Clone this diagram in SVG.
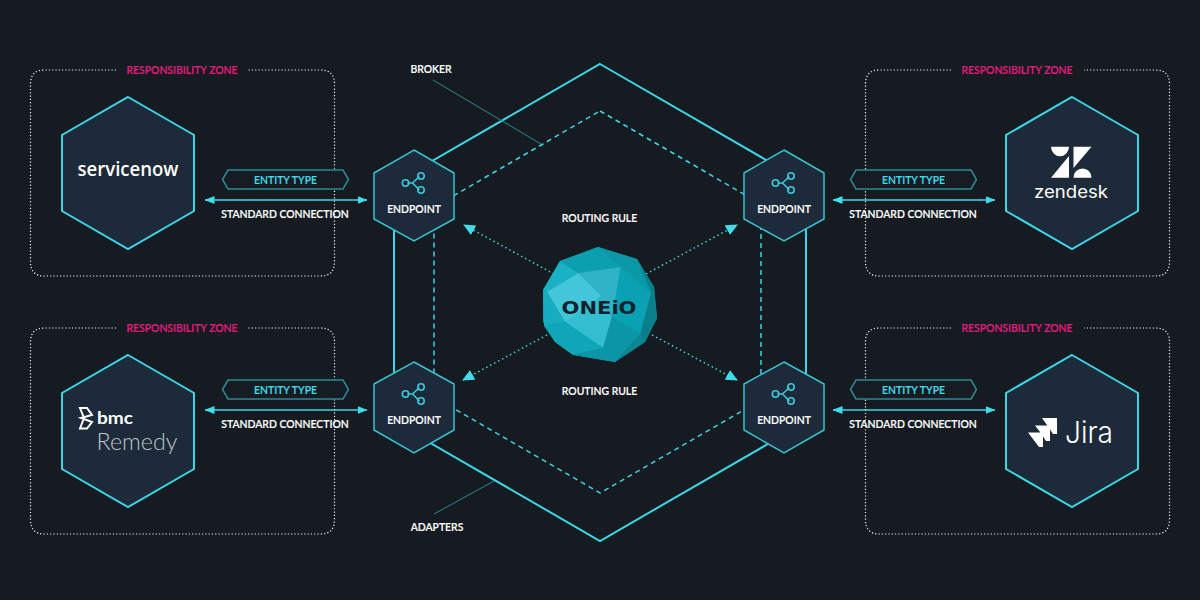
<svg xmlns="http://www.w3.org/2000/svg" width="1200" height="600" viewBox="0 0 1200 600">
<defs>
<style>
text{font-family:Lato,"Open Sans","Liberation Sans",sans-serif;text-anchor:middle}
.lbl{font-size:10.4px;font-weight:600;fill:#fff;stroke:#fff;stroke-width:.15}
.zone-t{font-size:10.4px;font-weight:600;fill:#e01c80;stroke:#e01c80;stroke-width:.15}
.et{font-size:10.4px;font-weight:600;fill:#3fdcea;stroke:#3fdcea;stroke-width:.15}
.zone{fill:none;stroke:#f2f4f5;stroke-width:1.2;stroke-dasharray:1.2 2.1}
.svc{fill:#1d2a3a;stroke:#3bd6e6;stroke-width:2}
.ep{fill:#1d2a3a;stroke:#37c3d2;stroke-width:1.5}
.etb{fill:#171b22;stroke:#2a8b99;stroke-width:1.5}
.solid{fill:none;stroke:#3bd6e6;stroke-width:2}
.dash{fill:none;stroke:#3bd6e6;stroke-width:1.5;stroke-dasharray:5 4}
.dot{fill:none;stroke:#3bd6e6;stroke-width:1.5;stroke-dasharray:1.5 3}
.lead{fill:none;stroke:#2a8b99;stroke-width:1}
.conn{stroke:#3bd6e6;stroke-width:1.5}
.ic{fill:none;stroke:#3bc9da;stroke-width:1.6}
</style>
<marker id="ah" viewBox="0 0 10 8" refX="9.500" refY="4" markerUnits="userSpaceOnUse" markerWidth="10" markerHeight="8" orient="auto-start-reverse"><path d="M0 0L10 4L0 8Z" fill="#3fdcea"/></marker>
<marker id="ah2" viewBox="0 0 12 11" refX="11" refY="5.500" markerUnits="userSpaceOnUse" markerWidth="12" markerHeight="11" orient="auto"><path d="M0 0L12 5.500L0 11Z" fill="#3fdcea"/></marker>
<g id="icon"><path class="ic" d="M-6.500 0H-1.500L5.500 -6.500M-1.500 0L5.500 7"/><circle class="ic" cx="-8.500" cy="0" r="3.200"/><circle class="ic" cx="7" cy="-7" r="3.200"/><circle class="ic" cx="7" cy="7" r="3.200"/></g>
</defs>
<rect width="1200" height="600" fill="#161a21"/>

<g id="connectors">
<path class="solid" d="M600 64L806 183V422L600 541L394 422V183Z"/>
<path class="dash" d="M600 111L761 204V400L600 493L434 397V207Z"/>
<path class="lead" d="M433 80L541 144M434 514L494 481"/>
<path class="dot" d="M554 274L464 225" marker-end="url(#ah2)"/>
<path class="dot" d="M646 274L737 225" marker-end="url(#ah2)"/>
<path class="dot" d="M547 335L463 380" marker-end="url(#ah2)"/>
<path class="dot" d="M652 335L737 380" marker-end="url(#ah2)"/>
<path class="conn" d="M205 200H367" marker-start="url(#ah)" marker-end="url(#ah)"/>
<path class="conn" d="M205 410H367" marker-start="url(#ah)" marker-end="url(#ah)"/>
<path class="conn" d="M833 200H995" marker-start="url(#ah)" marker-end="url(#ah)"/>
<path class="conn" d="M833 410H995" marker-start="url(#ah)" marker-end="url(#ah)"/>
</g>

<g id="zone-tl"><path class="zone" d="M116 70H44.500Q30.500 70 30.500 84V262Q30.500 276 44.500 276H320.500Q334.500 276 334.500 262V84Q334.500 70 320.500 70H247"/><text class="zone-t" x="182" y="74">RESPONSIBILITY ZONE</text></g>
<g id="zone-bl"><path class="zone" d="M116 328H44.500Q30.500 328 30.500 342V520Q30.500 534 44.500 534H320.500Q334.500 534 334.500 520V342Q334.500 328 320.500 328H247"/><text class="zone-t" x="182" y="332">RESPONSIBILITY ZONE</text></g>
<g id="zone-tr"><path class="zone" d="M951 70H879.500Q865.500 70 865.500 84V262Q865.500 276 879.500 276H1155.500Q1169.500 276 1169.500 262V84Q1169.500 70 1155.500 70H1084"/><text class="zone-t" x="1017" y="74">RESPONSIBILITY ZONE</text></g>
<g id="zone-br"><path class="zone" d="M951 328H879.500Q865.500 328 865.500 342V520Q865.500 534 879.500 534H1155.500Q1169.500 534 1169.500 520V342Q1169.500 328 1155.500 328H1084"/><text class="zone-t" x="1017" y="332">RESPONSIBILITY ZONE</text></g>

<g id="servicenow"><path class="svc" d="M128 97L194 135V211L128 249L62 211V135Z"/><text x="128" y="176" font-size="20" font-weight="600" fill="#fff" style="font-family:'Open Sans',Lato,sans-serif" textLength="101" lengthAdjust="spacingAndGlyphs">servicenow</text></g>
<g id="bmc"><path class="svc" d="M128 355L194 393V469L128 507L62 469V393Z"/>
<path d="M80 408H87L92 415L81 418L92 422L87 428.500H80L84 418Z" fill="none" stroke="#fff" stroke-width="2"/>
<text x="115" y="423.500" font-size="17.500" font-weight="700" fill="#fff" textLength="36" lengthAdjust="spacingAndGlyphs">bmc</text><text x="137" y="450" font-size="23.500" font-weight="300" fill="#bcc4cb" textLength="81" lengthAdjust="spacingAndGlyphs">Remedy</text></g>
<g id="zendesk"><path class="svc" d="M1072 97L1138 135V211L1072 249L1006 211V135Z"/>
<path d="M1051 146.700H1069A9 9.500 0 0 1 1051 146.700ZM1069 156V177.700H1051ZM1073.500 146.700H1091.500L1073.500 168ZM1073.500 177.700A9 9.300 0 0 1 1091.500 177.700Z" fill="#fff"/>
<text x="1071" y="198" font-size="17" font-weight="400" fill="#fff" style="font-family:Inter,Lato,sans-serif" textLength="74" lengthAdjust="spacingAndGlyphs">zendesk</text></g>
<g id="jira"><path class="svc" d="M1072 355L1138 393V469L1072 507L1006 469V393Z"/>
<path d="M1042 418H1057V434H1053L1047 425ZM1035 425.500H1050V441H1046L1040 432ZM1028 432.500H1043V447H1039L1033 439Z" fill="#fff"/>
<text x="1089" y="443" font-size="30" font-weight="300" fill="#fff" style="font-family:Inter,Lato,sans-serif" textLength="48" lengthAdjust="spacingAndGlyphs">Jira</text></g>

<g id="ep-tl"><path class="ep" d="M414 150L454 173V219L414 241L374 219V173Z"/><use href="#icon" x="414" y="183"/><text class="lbl" x="414" y="213">ENDPOINT</text></g>
<g id="ep-tr"><path class="ep" d="M784 150L824 173V219L784 241L744 219V173Z"/><use href="#icon" x="784" y="183"/><text class="lbl" x="784" y="213">ENDPOINT</text></g>
<g id="ep-bl"><path class="ep" d="M414 362L454 384V430L414 453L374 430V384Z"/><use href="#icon" x="414" y="394"/><text class="lbl" x="414" y="424">ENDPOINT</text></g>
<g id="ep-br"><path class="ep" d="M784 362L824 384V430L784 453L744 430V384Z"/><use href="#icon" x="784" y="394"/><text class="lbl" x="784" y="424">ENDPOINT</text></g>

<g id="et-tl"><path class="etb" d="M222.500 179.500L228 170H343L348.500 179.500L343 189H228Z"/><text class="et" x="285.500" y="184">ENTITY TYPE</text></g>
<g id="et-bl"><path class="etb" d="M222.500 389.500L228 380H343L348.500 389.500L343 399H228Z"/><text class="et" x="285.500" y="394">ENTITY TYPE</text></g>
<g id="et-tr"><path class="etb" d="M850.500 179.500L856 170H971L976.500 179.500L971 189H856Z"/><text class="et" x="913.500" y="184">ENTITY TYPE</text></g>
<g id="et-br"><path class="etb" d="M850.500 389.500L856 380H971L976.500 389.500L971 399H856Z"/><text class="et" x="913.500" y="394">ENTITY TYPE</text></g>

<g id="labels">
<text class="lbl" x="285" y="218">STANDARD CONNECTION</text>
<text class="lbl" x="285" y="428">STANDARD CONNECTION</text>
<text class="lbl" x="913" y="218">STANDARD CONNECTION</text>
<text class="lbl" x="913" y="428">STANDARD CONNECTION</text>
<text class="lbl" x="431" y="73">BROKER</text>
<text class="lbl" x="437" y="531">ADAPTERS</text>
<text class="lbl" x="599.500" y="222">ROUTING RULE</text>
<text class="lbl" x="599.500" y="395">ROUTING RULE</text>
</g>

<g id="oneio">
<path d="M598 247L637 259L654 287L657 318L645 342L615 362L573 355L555 342L543 322L543 290L560 261Z" fill="#0a98a8"/>
<path d="M637 259L654 287L657 318L645 342L640 334L651 293Z" fill="#0a7f8c"/>
<path d="M598 247L637 259L651 293L621 267Z" fill="#0a98a7"/>
<path d="M560 261L598 247L621 267L578 273Z" fill="#0c9fb0"/>
<path d="M560 261L578 273L547 292L543 290Z" fill="#19b2c4"/>
<path d="M578 273L621 267L612 317Z" fill="#2fb4c6"/>
<path d="M578 273L612 317L603 348L565 322Z" fill="#33bed1"/>
<path d="M578 273L601 296L565 322L547 292Z" fill="#44c6da"/>
<path d="M547 292L565 322L544 326L543 290Z" fill="#16adc0"/>
<path d="M544 326L565 322L603 348L573 355L555 342Z" fill="#0fa6b8"/>
<path d="M621 267L651 293L640 334L612 317Z" fill="#0aa1b2"/>
<path d="M612 317L640 334L615 362L573 355L603 348Z" fill="#0a96a6"/>
<path d="M640 334L645 342L615 362Z" fill="#0b8794"/>
<text x="599" y="313.500" font-size="18" font-weight="700" fill="#12222c" style="font-family:'DejaVu Sans','Liberation Sans',sans-serif" textLength="75" lengthAdjust="spacingAndGlyphs">ONEiO</text>
</g>
</svg>
